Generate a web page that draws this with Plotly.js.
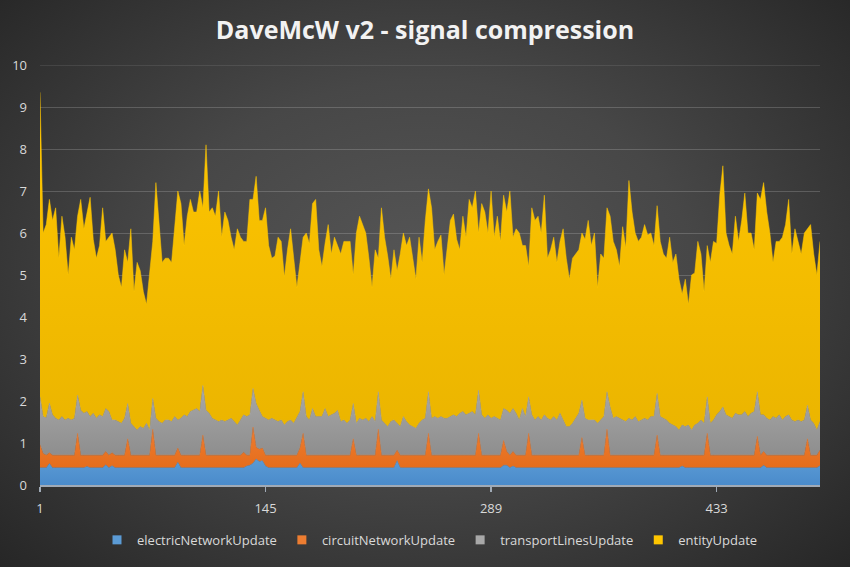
<!DOCTYPE html>
<html>
<head>
<meta charset="utf-8">
<script src="https://cdn.plot.ly/plotly-3.0.1.min.js"></script>
<style>
  html, body { margin:0; padding:0; }
  body { width:850px; height:567px; overflow:hidden;
    background: radial-gradient(ellipse 70% 75% at 50% 48%, #565656 0%, #474747 45%, #353535 75%, #262626 100%); }
  #chart { width:850px; height:567px; }
</style>
</head>
<body>
<div id="chart"></div>
<script>
// Sample rows (every other row of the log, 1..499)
const tickValues = [1, 145, 289, 433];
const tickLabels = ["1", "145", "289", "433"];
const seriesNames = ["electricNetworkUpdate", "circuitNetworkUpdate", "transportLinesUpdate", "entityUpdate"];

const electricNetworkUpdate = [
0.41,0.41,0.41,0.51,0.41,0.41,0.41,0.41,0.41,0.41,
0.41,0.41,0.41,0.41,0.41,0.44,0.41,0.41,0.41,0.41,
0.41,0.48,0.41,0.46,0.41,0.41,0.41,0.41,0.41,0.41,
0.41,0.41,0.41,0.41,0.41,0.41,0.41,0.41,0.41,0.41,
0.41,0.41,0.41,0.41,0.54,0.41,0.41,0.41,0.41,0.41,
0.41,0.41,0.41,0.41,0.41,0.41,0.41,0.41,0.41,0.41,
0.41,0.41,0.41,0.41,0.41,0.41,0.45,0.47,0.52,0.62,
0.56,0.58,0.45,0.41,0.41,0.41,0.41,0.41,0.41,0.41,
0.41,0.41,0.41,0.52,0.41,0.41,0.41,0.41,0.41,0.41,
0.41,0.41,0.41,0.41,0.41,0.41,0.41,0.41,0.41,0.41,
0.41,0.41,0.41,0.41,0.41,0.41,0.41,0.41,0.41,0.41,
0.41,0.41,0.41,0.41,0.58,0.41,0.41,0.41,0.41,0.41,
0.41,0.41,0.41,0.41,0.41,0.41,0.41,0.41,0.41,0.41,
0.41,0.41,0.41,0.41,0.41,0.41,0.41,0.41,0.41,0.41,
0.41,0.41,0.41,0.41,0.41,0.41,0.41,0.41,0.47,0.47,
0.41,0.45,0.41,0.41,0.41,0.41,0.41,0.41,0.41,0.41,
0.41,0.41,0.41,0.41,0.41,0.41,0.41,0.41,0.41,0.41,
0.41,0.41,0.41,0.41,0.41,0.41,0.41,0.41,0.41,0.41,
0.41,0.41,0.41,0.41,0.41,0.41,0.41,0.41,0.41,0.41,
0.41,0.41,0.41,0.41,0.41,0.41,0.41,0.41,0.41,0.41,
0.41,0.41,0.41,0.41,0.41,0.45,0.41,0.41,0.41,0.41,
0.41,0.41,0.41,0.41,0.41,0.41,0.41,0.41,0.41,0.41,
0.41,0.41,0.41,0.41,0.41,0.41,0.41,0.41,0.41,0.41,
0.41,0.47,0.41,0.41,0.41,0.41,0.41,0.41,0.41,0.41,
0.41,0.41,0.41,0.41,0.41,0.41,0.41,0.41,0.41,0.46
];

const circuitNetworkUpdate = [
0.55,0.34,0.30,0.26,0.30,0.30,0.30,0.30,0.30,0.30,
0.30,0.30,0.82,0.30,0.30,0.27,0.30,0.30,0.30,0.30,
0.30,0.32,0.30,0.31,0.30,0.30,0.30,0.30,0.69,0.30,
0.30,0.30,0.30,0.30,0.30,0.30,0.92,0.30,0.30,0.30,
0.30,0.30,0.30,0.30,0.34,0.30,0.30,0.30,0.30,0.30,
0.30,0.30,0.78,0.30,0.30,0.30,0.30,0.30,0.30,0.30,
0.30,0.30,0.30,0.30,0.30,0.37,0.26,0.24,0.86,0.28,
0.29,0.30,0.26,0.30,0.30,0.30,0.30,0.30,0.30,0.30,
0.30,0.30,0.30,0.36,0.82,0.30,0.30,0.30,0.30,0.30,
0.30,0.30,0.30,0.30,0.30,0.30,0.30,0.30,0.30,0.30,
0.69,0.30,0.30,0.30,0.30,0.30,0.30,0.30,0.92,0.30,
0.30,0.30,0.30,0.30,0.25,0.30,0.30,0.30,0.30,0.30,
0.30,0.30,0.30,0.30,0.82,0.30,0.30,0.30,0.30,0.30,
0.30,0.30,0.30,0.30,0.30,0.30,0.30,0.30,0.30,0.30,
0.82,0.30,0.30,0.30,0.30,0.30,0.30,0.30,0.59,0.33,
0.30,0.35,0.30,0.30,0.30,0.30,0.82,0.30,0.30,0.30,
0.30,0.30,0.30,0.30,0.30,0.30,0.30,0.30,0.30,0.30,
0.30,0.30,0.30,0.72,0.30,0.30,0.30,0.30,0.30,0.30,
0.30,0.92,0.30,0.30,0.30,0.30,0.30,0.30,0.30,0.30,
0.30,0.30,0.30,0.30,0.30,0.30,0.30,0.78,0.30,0.30,
0.30,0.30,0.30,0.30,0.30,0.26,0.30,0.30,0.30,0.30,
0.30,0.30,0.30,0.82,0.30,0.30,0.30,0.30,0.30,0.30,
0.30,0.30,0.30,0.30,0.30,0.30,0.30,0.30,0.30,0.75,
0.30,0.33,0.30,0.30,0.30,0.30,0.30,0.30,0.30,0.30,
0.30,0.30,0.30,0.30,0.30,0.69,0.30,0.30,0.30,0.37
];

const transportLinesUpdate = [
1.14,0.88,0.89,1.18,0.96,0.88,0.84,0.92,0.84,0.88,
0.84,0.88,0.91,1.07,1.00,1.04,0.92,1.00,0.88,0.96,
0.92,1.02,1.04,0.78,0.84,0.80,0.76,0.88,0.84,0.76,
0.68,0.60,0.68,0.64,0.76,0.60,0.73,0.88,0.80,0.76,
0.84,0.84,0.80,0.92,0.67,0.88,0.96,0.92,1.04,1.07,
1.11,1.04,1.18,1.07,1.00,0.88,0.84,0.80,0.84,0.80,
0.84,0.88,0.80,0.72,0.84,0.89,0.92,0.96,0.92,1.04,
0.93,0.75,0.88,0.84,0.88,0.84,0.80,0.84,0.72,0.80,
0.84,0.76,0.92,0.87,0.99,0.92,0.84,1.11,0.92,0.92,
0.92,1.11,0.92,0.96,1.00,1.07,0.80,0.84,0.76,0.84,
0.84,0.76,0.88,0.84,0.88,0.80,0.92,0.80,0.89,0.84,
0.76,0.68,0.80,0.84,0.64,0.68,0.92,0.80,0.72,0.68,
0.64,0.76,0.84,0.88,0.99,0.88,0.92,0.88,0.92,0.88,
0.88,0.92,0.96,0.92,1.00,1.04,0.96,1.00,1.04,0.96,
1.03,0.96,0.88,0.96,0.88,0.92,0.88,0.84,0.76,0.98,
1.00,1.02,1.00,0.84,1.11,0.92,0.87,0.96,0.84,0.92,
0.84,0.96,0.88,0.84,0.92,0.84,1.00,0.84,0.68,0.68,
0.76,0.88,1.00,0.89,0.88,0.84,0.84,0.84,0.76,0.84,
0.92,0.89,1.15,0.88,0.92,0.88,0.84,0.80,0.88,0.84,
0.92,0.80,0.84,0.88,0.84,0.92,0.92,0.99,0.92,0.88,
0.84,0.76,0.72,0.68,0.60,0.72,0.68,0.72,0.60,0.72,
0.76,0.84,0.76,0.87,0.76,0.84,0.96,1.04,1.15,0.96,
0.92,0.88,1.00,0.96,0.96,1.04,0.92,1.00,1.04,1.06,
0.96,0.87,0.88,0.84,0.92,0.88,0.96,0.84,0.92,0.96,
0.84,0.80,0.84,0.80,0.84,0.80,0.84,0.76,0.60,0.68
];

const entityUpdate = [
7.25,4.37,4.60,4.85,4.63,5.01,3.85,4.77,4.35,3.41,
4.35,4.01,4.26,5.02,4.39,4.75,5.22,4.14,3.81,4.03,
4.97,3.98,4.15,4.45,4.05,3.49,3.23,4.01,3.36,4.63,
3.21,3.99,3.71,3.25,2.83,3.69,3.74,5.61,4.69,3.83,
3.85,3.85,3.79,4.57,5.45,5.11,4.03,4.77,5.05,4.72,
4.68,5.25,4.23,6.32,4.79,5.01,4.85,5.49,4.35,4.99,
4.75,4.31,4.09,4.67,4.35,4.13,4.17,5.13,4.50,5.41,
4.52,4.67,5.01,4.15,3.81,3.90,4.39,4.25,3.52,4.09,
4.55,3.93,3.07,3.55,3.68,4.37,4.20,4.88,5.17,3.97,
3.57,3.93,4.57,3.83,4.19,3.92,3.99,4.25,4.33,4.25,
3.06,4.53,4.81,4.65,4.41,3.89,3.07,4.09,3.18,5.05,
4.43,4.06,3.39,4.05,3.63,4.11,4.37,4.19,4.47,4.01,
3.55,4.43,3.75,4.71,4.83,5.01,3.97,4.21,4.32,3.41,
4.11,4.67,4.78,4.22,3.89,4.65,4.23,5.09,4.85,5.33,
3.74,5.03,4.91,4.33,5.41,4.27,4.81,4.25,5.08,4.72,
5.29,4.08,4.39,4.45,3.88,4.07,3.10,4.93,4.75,4.77,
4.45,5.23,3.81,4.05,4.27,3.75,4.09,4.55,4.01,3.51,
3.93,3.91,3.89,3.98,4.26,4.75,4.15,4.45,3.23,3.95,
3.77,4.38,4.54,4.21,3.97,3.61,4.60,4.14,5.66,4.95,
4.37,4.29,4.35,4.61,4.40,4.37,4.07,4.47,4.17,3.91,
3.85,4.43,3.87,4.11,3.59,3.12,3.51,2.87,3.69,3.62,
4.33,3.95,3.13,3.60,3.83,4.25,4.08,5.15,5.74,4.33,
4.07,3.91,4.69,4.13,4.63,5.20,4.37,4.29,3.85,4.73,
5.13,5.53,4.91,4.45,3.67,4.21,4.13,4.35,4.57,5.13,
3.95,4.59,4.25,3.99,4.45,4.20,4.65,4.03,3.69,4.29
];

// row numbers of the samples
const rows = electricNetworkUpdate.map((_, i) => 1 + 2 * i);

const seriesValues = [electricNetworkUpdate, circuitNetworkUpdate, transportLinesUpdate, entityUpdate];
const topColors = ['#5b9bd5', '#ed7d31', '#a8a8a8', '#ffc600'];
const bottomColors = ['#4a8bcb', '#e56d1c', '#8e8e8e', '#ebb500'];

const data = [];
seriesValues.forEach((y, i) => {
  data.push({
    type: 'scatter', mode: 'lines', name: seriesNames[i], x: rows, y: y,
    stackgroup: 'one', showlegend: false,
    line: { width: 0.5, color: topColors[i] },
    fillcolor: topColors[i],
    fillgradient: { type: 'vertical', colorscale: [[0, bottomColors[i]], [1, topColors[i]]] }
  });
});
// legend entries (square swatches like the original)
seriesNames.forEach((n, i) => {
  data.push({
    type: 'scatter', mode: 'markers', name: n, x: [null], y: [null],
    marker: { symbol: 'square', size: 9, color: topColors[i] },
    showlegend: true
  });
});

const layout = {
  width: 850, height: 567,
  paper_bgcolor: 'rgba(0,0,0,0)',
  plot_bgcolor: 'rgba(0,0,0,0)',
  margin: { l: 40, r: 30, t: 65, b: 78, pad: 0 },
  title: {
    text: '<b>DaveMcW v2 - signal compression</b>',
    x: 0.5, xanchor: 'center', y: 0.947, yanchor: 'middle',
    font: { family: 'Open Sans, sans-serif', size: 25, color: '#f2f2f2' }
  },
  showlegend: true,
  legend: {
    orientation: 'h', x: 0.5, xanchor: 'center', y: -0.095, yanchor: 'top',
    font: { family: 'Open Sans, sans-serif', size: 13, color: '#d9d9d9' },
    bgcolor: 'rgba(0,0,0,0)', traceorder: 'normal', itemwidth: 30
  },
  xaxis: {
    type: 'linear', range: [1, 499],
    tickmode: 'array', tickvals: tickValues, ticktext: tickLabels,
    showgrid: false, zeroline: false,
    showline: true, linecolor: '#a0aab6', linewidth: 1.5,
    ticks: 'outside', ticklen: 5, tickcolor: '#a0aab6', tickwidth: 1.5,
    ticklabelstandoff: 6,
    tickfont: { family: 'Open Sans, sans-serif', size: 13, color: '#d9d9d9' }
  },
  yaxis: {
    range: [0, 10], dtick: 1, tick0: 0,
    showgrid: true, gridcolor: 'rgba(217,217,217,0.22)', gridwidth: 1,
    zeroline: false, showline: false, ticks: '',
    ticklabelstandoff: 12,
    tickfont: { family: 'Open Sans, sans-serif', size: 13, color: '#d9d9d9' }
  },
  shapes: [{
    type: 'line', xref: 'paper', yref: 'y', x0: 0, x1: 1, y0: 10, y1: 10,
    line: { color: 'rgba(217,217,217,0.22)', width: 1 }, layer: 'below'
  }],
  hovermode: false
};

Plotly.newPlot('chart', data, layout, { displayModeBar: false, staticPlot: true });
</script>
</body>
</html>
